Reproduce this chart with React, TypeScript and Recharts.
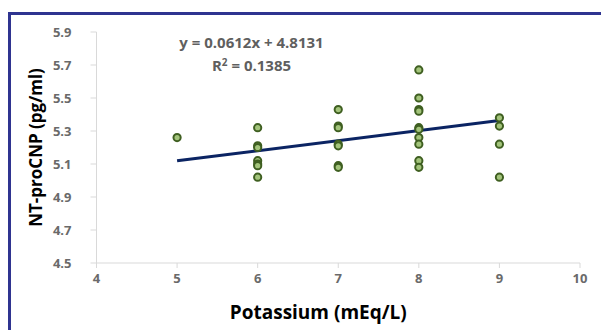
import { Scatter, ScatterChart, XAxis, YAxis } from "recharts";

// potassium (mEq/L) per column, NT-proCNP (pg/ml) readings
const potassium = [5, 6, 7, 8, 9];
const ntProCnp = [
  [5.26],
  [5.32, 5.21, 5.2, 5.12, 5.1, 5.09, 5.02],
  [5.43, 5.33, 5.32, 5.22, 5.21, 5.09, 5.08],
  [5.67, 5.5, 5.43, 5.42, 5.32, 5.31, 5.26, 5.22, 5.12, 5.08],
  [5.38, 5.33, 5.22, 5.02],
];
const xTicks = [4, 5, 6, 7, 8, 9, 10];
const yTicks = [4.5, 4.7, 4.9, 5.1, 5.3, 5.5, 5.7, 5.9];
const slope = 0.0612;
const intercept = 4.8131;
const rSquared = 0.1385;

const points = potassium.flatMap((k, i) => ntProCnp[i].map((v) => ({ x: k, y: v })));
const xMin = Math.min(...potassium);
const xMax = Math.max(...potassium);
const trend = [
  { x: xMin, y: slope * xMin + intercept },
  { x: xMax, y: slope * xMax + intercept },
];

const tickStyle = {
  fill: "#6a6a6a",
  fontSize: 13,
  fontWeight: 700,
  fontFamily: "Open Sans, sans-serif",
};

export default function App() {
  return (
    <div
      style={{
        position: "fixed",
        left: 8,
        top: 12,
        width: 600,
        height: 330,
        borderTop: "3px solid #2f3490",
        borderLeft: "3px solid #2f3490",
        background: "#fff",
        fontFamily: "Open Sans, sans-serif",
      }}
    >
      <ScatterChart
        width={590}
        height={318}
        margin={{ top: 17, right: 21, left: 0, bottom: 30 }}
      >
        <XAxis
          type="number"
          dataKey="x"
          domain={[4, 10]}
          ticks={xTicks}
          stroke="#d9d9d9"
          tickSize={5}
          tickMargin={6}
          tick={tickStyle}
          height={40}
          label={{
            content: ({ viewBox }: any) => (
              <text
                x={viewBox.x + viewBox.width / 2 - 20}
                y={297}
                textAnchor="middle"
                dominantBaseline="central"
                fontSize={19}
                fontWeight={700}
                fill="#000"
              >
                Potassium (mEq/L)
              </text>
            ),
          }}
        />
        <YAxis
          type="number"
          dataKey="y"
          domain={[4.5, 5.9]}
          ticks={yTicks}
          tickFormatter={(v: number) => v.toFixed(1)}
          stroke="#d9d9d9"
          tickSize={6}
          tickMargin={19}
          tick={tickStyle}
          width={85.5}
          label={{
            content: ({ viewBox }: any) => {
              const cy = viewBox.y + viewBox.height / 2;
              return (
                <text
                  x={24}
                  y={cy}
                  transform={`rotate(-90 24 ${cy})`}
                  textAnchor="middle"
                  dominantBaseline="central"
                  fontSize={17}
                  fontWeight={700}
                  fill="#000"
                >
                  NT-proCNP (pg/ml)
                </text>
              );
            },
          }}
        />
        <Scatter
          data={trend}
          line={{ stroke: "#0b2463", strokeWidth: 3 }}
          shape={() => <g />}
          isAnimationActive={false}
        />
        <Scatter
          data={points}
          isAnimationActive={false}
          shape={(p: any) => (
            <circle cx={p.cx} cy={p.cy} r={3.6} fill="#a3c47b" stroke="#3f5f21" strokeWidth={2} />
          )}
        />
      </ScatterChart>
      <div
        style={{
          position: "absolute",
          left: 150.5,
          top: 16.7,
          width: 180,
          textAlign: "center",
          color: "#5f5f5f",
          fontSize: 15,
          fontWeight: 700,
          lineHeight: "20px",
        }}
      >
        <div>y = 0.0612x + 4.8131</div>
        <div>
          R<sup style={{ fontSize: 10, verticalAlign: "5px" }}>2</sup> = {rSquared.toFixed(4)}
        </div>
      </div>
    </div>
  );
}
